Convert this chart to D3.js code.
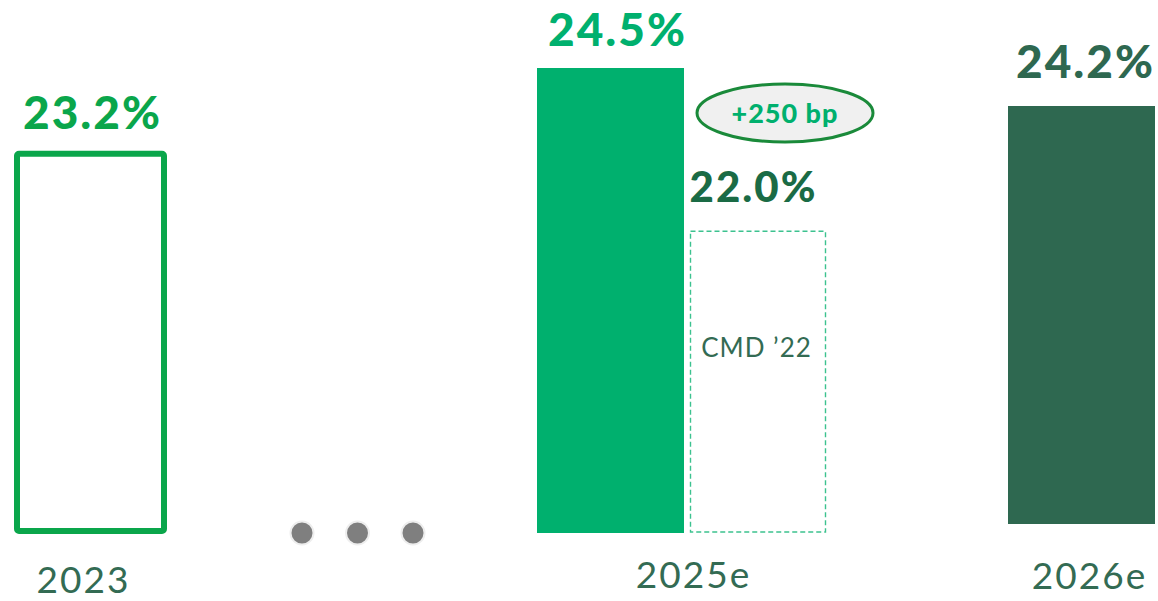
<!DOCTYPE html>
<meta charset="utf-8">
<style>
	body { margin: 0; background: #fff; }
	text { font-family: Lato, "Open Sans", sans-serif; }
	.pct { font-weight: 900; font-size: 46px; letter-spacing: 2px; }
	.year { font-size: 37px; fill: #336b53; letter-spacing: 2px; }
</style>
<body>
<div id="chart"></div>
<script src="https://cdn.jsdelivr.net/npm/d3@7"></script>
<script>
	// data
	const categories = ["2023", "2025e", "2026e"];
	const values = [23.2, 24.5, 24.2];
	const labels = ["23.2%", "24.5%", "24.2%"];
	const cmdValue = 22.0;
	const cmdLabel = "22.0%";
	const cmdName = "CMD \u201922";
	const deltaLabel = "+250 bp";
	const gapDots = [0, 1, 2];

	const width = 1158, height = 601;
	const barW = 147;

	const svg = d3.select("#chart").append("svg")
		.attr("width", width)
		.attr("height", height);

	// hand placed groups, not evenly spaced on the slide
	const x = d3.scaleOrdinal().domain(categories).range([17, 537, 1008]);
	const xDots = d3.scaleLinear().domain([0, 2]).range([302, 413]);

	// broken axis, left panels share one scale, right panel sits a bit higher
	const y = d3.scaleLinear().domain([17.2, 24.5]).range([533, 68]);
	const yRight = d3.scaleLinear().domain([17.2, 24.2]).range([524, 106]);
	const scaleFor = c => c === "2026e" ? yRight : y;

	// 2023 - outlined bar
	svg.append("rect")
		.attr("x", x("2023"))
		.attr("y", y(values[0]) + 3)
		.attr("width", barW)
		.attr("height", y(17.2) - y(values[0]) - 5)
		.attr("rx", 2)
		.attr("fill", "none")
		.attr("stroke", "#0aa64b")
		.attr("stroke-width", 6);

	// 2025e filled
	svg.append("rect")
		.attr("x", x("2025e"))
		.attr("y", y(values[1]))
		.attr("width", barW)
		.attr("height", y(17.2) - y(values[1]))
		.attr("fill", "#00b06e");

	// CMD '22 target, dashed
	const cmdX = x("2025e") + barW + 6.5;
	svg.append("rect")
		.attr("x", cmdX)
		.attr("y", y(cmdValue) + 4)
		.attr("width", 135)
		.attr("height", y(17.2) - y(cmdValue) - 5)
		.attr("fill", "none")
		.attr("stroke", "#3cc28f")
		.attr("stroke-width", 1.4)
		.attr("stroke-dasharray", "5,3");

	svg.append("text")
		.attr("x", cmdX + 66)
		.attr("y", 357)
		.attr("text-anchor", "middle")
		.style("font-size", "26px")
		.style("letter-spacing", "1px")
		.style("fill", "#336b53")
		.text(cmdName);

	// 2026e filled
	svg.append("rect")
		.attr("x", x("2026e"))
		.attr("y", yRight(values[2]))
		.attr("width", barW)
		.attr("height", yRight(17.2) - yRight(values[2]))
		.attr("fill", "#2e6850");

	// value labels
	const pctColors = ["#0aa64b", "#00b06e", "#2e6850"];
	const pctShift = { "2023": 2, "2025e": 7, "2026e": 4 };
	svg.selectAll(".pct.main")
		.data(categories)
		.join("text")
		.attr("class", "pct main")
		.attr("x", d => x(d) + barW / 2 + pctShift[d])
		.attr("y", (d, i) => scaleFor(d)(values[i]) - (d === "2026e" ? 28 : 22))
		.attr("text-anchor", "middle")
		.style("fill", (d, i) => pctColors[i])
		.text((d, i) => labels[i]);

	svg.append("text")
		.attr("class", "pct")
		.attr("x", cmdX + 63)
		.attr("y", y(cmdValue) - 25)
		.attr("text-anchor", "middle")
		.style("font-size", "42px")
		.style("fill", "#1a6b45")
		.text(cmdLabel);

	// delta bubble
	svg.append("ellipse")
		.attr("cx", 785)
		.attr("cy", 113)
		.attr("rx", 88)
		.attr("ry", 29)
		.attr("fill", "#f0f0f0")
		.attr("stroke", "#1a8a3a")
		.attr("stroke-width", 3);

	svg.append("text")
		.attr("x", 785)
		.attr("y", 123)
		.attr("text-anchor", "middle")
		.style("font-weight", 900)
		.style("font-size", "27px")
		.style("letter-spacing", "1px")
		.style("fill", "#00b06e")
		.text(deltaLabel);

	// ... between 2023 and 2025e
	svg.selectAll(".dot")
		.data(gapDots)
		.join("circle")
		.attr("class", "dot")
		.attr("cx", d => xDots(d))
		.attr("cy", 533)
		.attr("r", 11.5)
		.attr("fill", "#7f7f7f")
		.attr("stroke", "#eeeeee")
		.attr("stroke-width", 2);

	// year labels
	const yearOffset = { "2023": -7, "2025e": 83, "2026e": 8 };
	const yearBase = { "2023": 593, "2025e": 588, "2026e": 589 };
	svg.selectAll(".year")
		.data(categories)
		.join("text")
		.attr("class", "year")
		.attr("x", d => x(d) + barW / 2 + yearOffset[d])
		.attr("y", d => yearBase[d])
		.attr("text-anchor", "middle")
		.text(d => d);
</script>
</body>
